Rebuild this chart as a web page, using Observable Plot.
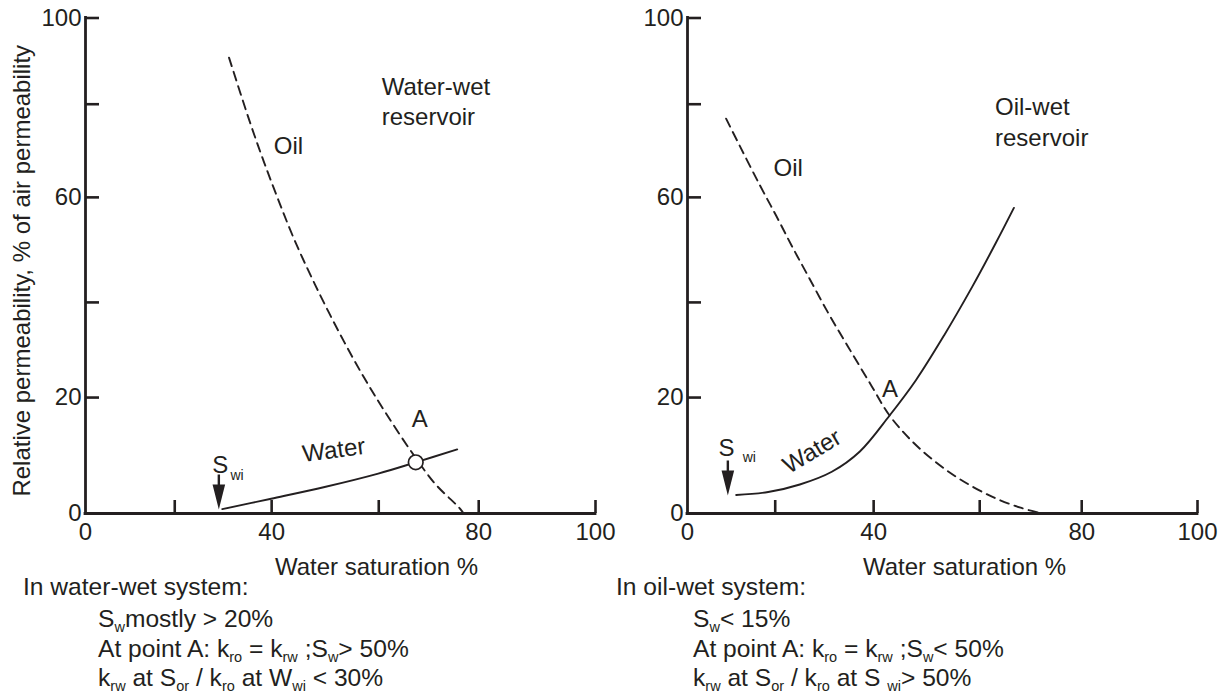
<!DOCTYPE html>
<html>
<head>
<meta charset="utf-8">
<script src="https://cdn.jsdelivr.net/npm/d3@7"></script>
<script src="https://cdn.jsdelivr.net/npm/@observablehq/plot@0.6"></script>
<style>
  html, body { margin: 0; padding: 0; background: #fff; }
  #fig { position: relative; width: 1223px; height: 694px; overflow: hidden;
         font-family: "Liberation Sans", Arial, Helvetica, sans-serif; color: #231f20; }
  #fig svg { position: absolute; top: 0; }
  .note { position: absolute; font-size: 24.6px; line-height: 30px; white-space: nowrap; }
  .note sub { font-size: 14.5px; vertical-align: -5px; line-height: 0; }
</style>
</head>
<body>
<div id="fig">
  <div class="note" style="left:23px;top:572px">In water-wet system:</div>
  <div class="note" style="left:98px;top:604px">S<sub>w</sub>mostly &gt; 20%</div>
  <div class="note" style="left:98px;top:634px">At point A: k<sub>ro</sub> = k<sub>rw</sub> ;S<sub>w</sub>&gt; 50%</div>
  <div class="note" style="left:98px;top:663px">k<sub>rw</sub> at S<sub>or</sub> / k<sub>ro</sub> at W<sub>wi</sub> &lt; 30%</div>

  <div class="note" style="left:616px;top:572px">In oil-wet system:</div>
  <div class="note" style="left:693px;top:604px">S<sub>w</sub>&lt; 15%</div>
  <div class="note" style="left:693px;top:634px">At point A: k<sub>ro</sub> = k<sub>rw</sub> ;S<sub>w</sub>&lt; 50%</div>
  <div class="note" style="left:693px;top:663px">k<sub>rw</sub> at S<sub>or</sub> / k<sub>ro</sub> at S <sub>wi</sub>&gt; 50%</div>
</div>
<script>
// Axis ticks (water saturation %, relative permeability %)
const satTicks = [0, 20, 40, 60, 80, 100];
const satLabels = [0, 40, 80, 100];
const permTicks = [0, 20, 40, 60, 80, 100];
const permLabels = [0, 20, 60, 100];

// Water-wet reservoir: oil and water relative permeability curves
const wwOilSw = [31.2, 35.5, 38.2, 41.1, 44.3, 48.1, 52.6, 57.2, 61.5, 66.9, 71.3, 76.1, 77.0];
const wwOilKr = [90.8, 76.2, 68.2, 59.9, 51.8, 43.4, 33.7, 24.3, 17.2, 10.2, 5.1, 1.0, 0];
const wwWaterSw = [29.8, 39.9, 49.9, 59.9, 67.4, 75.7];
const wwWaterKr = [0.75, 2.55, 4.57, 6.88, 8.83, 11.05];
const wwPointA = [67.4, 8.83];
const wwSwi = [29.1, 0.7];

// Oil-wet reservoir
const owOilSw = [8.8, 12.0, 16.5, 20.2, 23.4, 26.7, 30.7, 34.8, 39.6, 43.0, 47.2, 51.8, 56.3, 62.4, 68.0, 72.3];
const owOilKr = [76.9, 70.9, 62.6, 56.5, 50.7, 45.0, 37.9, 30.7, 22.4, 16.9, 12.5, 8.8, 5.9, 2.9, 1.0, 0];
const owWaterSw = [11.1, 18.4, 25.0, 31.5, 37.2, 43.0, 48.0, 53.3, 58.6, 63.2, 66.7];
const owWaterKr = [3.2, 3.7, 5.0, 7.2, 10.7, 16.9, 23.7, 33.1, 43.0, 51.4, 58.0];
const owSwi = [9.2, 3.1];

// In-chart annotations (saturation %, permeability %)
const wwNotes = {
  title: ["Water-wet\nreservoir", 60.6, 80.9],
  oil: ["Oil", 40.4, 71.0],
  water: ["Water", 51.6, 10.9, -7.5],
  a: ["A", 68.2, 16.2],
  s: ["S", 29.4, 8.3],
  wi: ["wi", 31.5, 6.6]
};
const owNotes = {
  title: ["Oil-wet\nreservoir", 63.0, 76.5],
  oil: ["Oil", 19.6, 66.2],
  water: ["Water", 27.5, 10.7, -31],
  a: ["A", 43.1, 21.8],
  s: ["S", 8.9, 11.3],
  wi: ["wi", 12.6, 9.7]
};

const ink = "#231f20";
const font = '"Liberation Sans", Arial, Helvetica, sans-serif';
const W = 612, H = 580;

// The printed grid is slightly uneven: each tick sits at its own fraction of the axis length.
// A piecewise interpolator spreads the scale's output between those fractions.
function unevenInterpolator(fractions) {
  const knots = fractions.map((f, i) => [i / (fractions.length - 1), f]);
  return (a, b) => (t) => {
    let k = 1;
    while (k < knots.length - 1 && t > knots[k][0]) k++;
    const [t0, f0] = knots[k - 1], [t1, f1] = knots[k];
    const f = f0 + (f1 - f0) * (t - t0) / (t1 - t0);
    return a + (b - a) * f;
  };
}

const zip = (xs, ys) => xs.map((x, i) => ({x, y: ys[i]}));

// Down-pointing arrow (shaft + slim filled head); tip sits at the anchor point
const arrowSymbol = {
  draw(ctx) {
    ctx.moveTo(-1.2, -35);
    ctx.lineTo(1.2, -35);
    ctx.lineTo(1.2, -25);
    ctx.lineTo(6.3, -25);
    ctx.lineTo(0, 0);
    ctx.lineTo(-6.3, -25);
    ctx.lineTo(-1.2, -25);
    ctx.closePath();
  }
};

const note = (n) => [{text: n[0], x: n[1], y: n[2], r: n[3] || 0}];

function panel({marginLeft, xFractions, oilSw, oilKr, waterSw, waterKr, pointA, swi, notes, xLabelDx, yTitle}) {
  const marks = [
    // axis lines
    Plot.ruleX([0], {y1: 0, y2: 100, stroke: ink, strokeWidth: 2.8, strokeLinecap: "square"}),
    Plot.ruleY([0], {x1: 0, x2: 100, stroke: ink, strokeWidth: 2.8, strokeLinecap: "square"}),
    // inward tick marks
    Plot.ruleX(satTicks.slice(1), {y1: 0, y2: 0, insetTop: -13, stroke: ink, strokeWidth: 2.6}),
    Plot.ruleY(permTicks.slice(1), {x1: 0, x2: 0, insetRight: -14, stroke: ink, strokeWidth: 2.6}),
    // curves
    Plot.line(zip(oilSw, oilKr), {x: "x", y: "y", curve: "catmull-rom", stroke: ink,
      strokeWidth: 1.9, strokeDasharray: "9,6"}),
    Plot.line(zip(waterSw, waterKr), {x: "x", y: "y", curve: "catmull-rom", stroke: ink, strokeWidth: 1.9}),
    // irreducible water saturation arrow
    Plot.dot([swi], {x: d => d[0], y: d => d[1], symbol: arrowSymbol, fill: ink, stroke: "none"}),
    // labels
    Plot.text(note(notes.title), {x: "x", y: "y", text: "text", textAnchor: "start", lineHeight: 1.27, fontSize: 24, fill: ink}),
    Plot.text(note(notes.oil), {x: "x", y: "y", text: "text", textAnchor: "start", fontSize: 24, fill: ink}),
    Plot.text(note(notes.water), {x: "x", y: "y", text: "text", rotate: "r", fontSize: 24, fill: ink}),
    Plot.text(note(notes.a), {x: "x", y: "y", text: "text", fontSize: 24, fill: ink}),
    Plot.text(note(notes.s), {x: "x", y: "y", text: "text", fontSize: 24, fill: ink}),
    Plot.text(note(notes.wi), {x: "x", y: "y", text: "text", textAnchor: "start", fontSize: 14, fill: ink}),
    // axis titles
    Plot.text(["Water saturation %"], {frameAnchor: "bottom", dx: xLabelDx, dy: 61, fontSize: 24, fill: ink})
  ];
  if (yTitle) {
    marks.push(Plot.text([yTitle], {frameAnchor: "left", textAnchor: "middle",
      rotate: -90, dx: -63, dy: 5, fontSize: 24, fill: ink}));
  }
  if (pointA) {
    marks.push(Plot.dot([pointA], {x: d => d[0], y: d => d[1], r: 7.3, fill: "white", stroke: ink, strokeWidth: 1.7}));
  }
  return Plot.plot({
    width: W,
    height: H,
    marginLeft,
    marginRight: W - marginLeft - 510,
    marginTop: 17.5,
    marginBottom: H - 513,
    style: {fontFamily: font, fontSize: "24px", color: ink, background: "transparent", overflow: "visible"},
    x: {type: "linear", domain: [0, 100], interpolate: unevenInterpolator(xFractions),
        ticks: satLabels, tickSize: 0, tickPadding: 9, label: null},
    y: {type: "linear", domain: [0, 100], interpolate: unevenInterpolator([0, 0.234, 0.426, 0.638, 0.826, 1]),
        ticks: permLabels, tickSize: 0, tickPadding: 4, label: null},
    marks
  });
}

const left = panel({
  marginLeft: 85,
  xFractions: [0, 0.175, 0.365, 0.575, 0.771, 1],
  oilSw: wwOilSw, oilKr: wwOilKr, waterSw: wwWaterSw, waterKr: wwWaterKr,
  pointA: wwPointA, swi: wwSwi, notes: wwNotes, xLabelDx: 36,
  yTitle: "Relative permeability, % of air permeability"
});
const right = panel({
  marginLeft: 75,
  xFractions: [0, 0.172, 0.365, 0.573, 0.773, 1],
  oilSw: owOilSw, oilKr: owOilKr, waterSw: owWaterSw, waterKr: owWaterKr,
  pointA: null, swi: owSwi, notes: owNotes, xLabelDx: 22, yTitle: null
});
left.style.left = "0px";
right.style.left = "612px";
const fig = document.getElementById("fig");
fig.appendChild(left);
fig.appendChild(right);
</script>
</body>
</html>
